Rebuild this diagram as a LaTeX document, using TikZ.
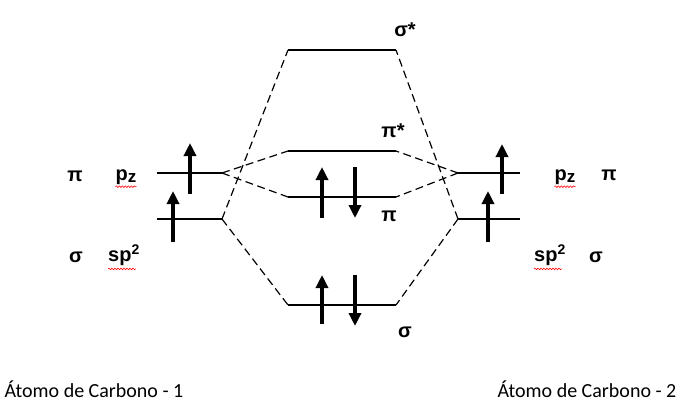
\documentclass[tikz,border=0pt]{standalone}
\usepackage{fontspec}
\setmainfont{Liberation Sans}
\newfontfamily\calibrifont{Carlito}
\usetikzlibrary{calc,arrows.meta,decorations.pathmorphing}
\tikzset{LEVEL/.style={line width=2pt}}
\tikzset{CORR/.style={line width=1.2pt, dash pattern=on 8pt off 4.5pt}}
\tikzset{ELEC/.style={line width=4pt, -{Triangle[length=13pt,width=12pt]}}}
\tikzset{LABEL/.style={font=\fontsize{20}{22}\selectfont\bfseries, inner sep=0pt}}
\tikzset{ATOM/.style={font=\calibrifont\fontsize{20}{24}\selectfont, inner sep=0pt}}
\tikzset{SPELL/.style={red, line width=0.6pt, decorate, decoration={snake,amplitude=0.8pt,segment length=3pt}}}

\begin{document}
\begin{tikzpicture}[x=1pt,y=-1pt]
\useasboundingbox (0,0) rectangle (680,405);

% molecular levels
\coordinate (c_sx_l) at (288,50);
\coordinate (c_sx_r) at (396,50);
\coordinate (c_px_l) at (288,151);
\coordinate (c_px_r) at (396,151);
\coordinate (c_p_l) at (288,197);
\coordinate (c_p_r) at (396,197);
\coordinate (c_s_l) at (288,305);
\coordinate (c_s_r) at (396,305);

% atomic levels
\coordinate (c_a1pz_l) at (157,173);
\coordinate (c_a1pz_r) at (222,173);
\coordinate (c_a1sp_l) at (157,219);
\coordinate (c_a1sp_r) at (222,219);
\coordinate (c_a2pz_l) at (458,173);
\coordinate (c_a2pz_r) at (520,173);
\coordinate (c_a2sp_l) at (458,219);
\coordinate (c_a2sp_r) at (520,219);

\draw[LEVEL] (c_sx_l) -- (c_sx_r);
\draw[LEVEL] (c_px_l) -- (c_px_r);
\draw[LEVEL] (c_p_l) -- (c_p_r);
\draw[LEVEL] (c_s_l) -- (c_s_r);
\draw[LEVEL] (c_a1pz_l) -- (c_a1pz_r);
\draw[LEVEL] (c_a1sp_l) -- (c_a1sp_r);
\draw[LEVEL] (c_a2pz_l) -- (c_a2pz_r);
\draw[LEVEL] (c_a2sp_l) -- (c_a2sp_r);

\draw[CORR] (c_a1sp_r) -- (c_sx_l);
\draw[CORR] (c_a1sp_r) -- (c_s_l);
\draw[CORR] (c_a1pz_r) -- (c_px_l);
\draw[CORR] (c_a1pz_r) -- (c_p_l);
\draw[CORR] (c_a2sp_l) -- (c_sx_r);
\draw[CORR] (c_a2sp_l) -- (c_s_r);
\draw[CORR] (c_a2pz_l) -- (c_px_r);
\draw[CORR] (c_a2pz_l) -- (c_p_r);

% electrons
\draw[ELEC] (190,194) -- (190,143);
\draw[ELEC] (173,242) -- (173,191);
\draw[ELEC] (502,194) -- (502,144);
\draw[ELEC] (488,242) -- (488,191);
\draw[ELEC] (322,218) -- (322,167);
\draw[ELEC] (355,167) -- (355,218);
\draw[ELEC] (322,324) -- (322,275);
\draw[ELEC] (355,275) -- (355,326);

% labels
\node[LABEL] (n_sx) at (405,30) {σ*};
\node[LABEL] (n_px) at (393,131) {π*};
\node[LABEL] (n_p) at (389,216) {π};
\node[LABEL] (n_s) at (405,332) {σ};

\node[LABEL] (n_a1_pi) at (75,176) {π};
\node[LABEL] (n_a1_pz) at (126,177) {p\raisebox{-0.25ex}{\fontsize{17}{18}\selectfont z}};
\node[LABEL] (n_a1_sigma) at (76,257) {σ};
\node[LABEL] (n_a1_sp) at (124,255) {sp\textsuperscript{2}};

\node[LABEL] (n_a2_pz) at (565,177) {p\raisebox{-0.25ex}{\fontsize{17}{18}\selectfont z}};
\node[LABEL] (n_a2_pi) at (609,175) {π};
\node[LABEL] (n_a2_sp) at (550,255) {sp\textsuperscript{2}};
\node[LABEL] (n_a2_sigma) at (596,257) {σ};

\draw[SPELL] ($(n_a1_pz.south west)+(0,2)$) -- ($(n_a1_pz.south east)+(0,2)$);
\draw[SPELL] ($(n_a1_sp.south west)+(0,3)$) -- ($(n_a1_sp.south east)+(-4,3)$);
\draw[SPELL] ($(n_a2_pz.south west)+(0,2)$) -- ($(n_a2_pz.south east)+(0,2)$);
\draw[SPELL] ($(n_a2_sp.south west)+(0,3)$) -- ($(n_a2_sp.south east)+(-4,3)$);

\node[ATOM] (n_atom1) at (94,389) {Átomo de Carbono - 1};
\node[ATOM] (n_atom2) at (587,389) {Átomo de Carbono - 2};

\end{tikzpicture}
\end{document}
